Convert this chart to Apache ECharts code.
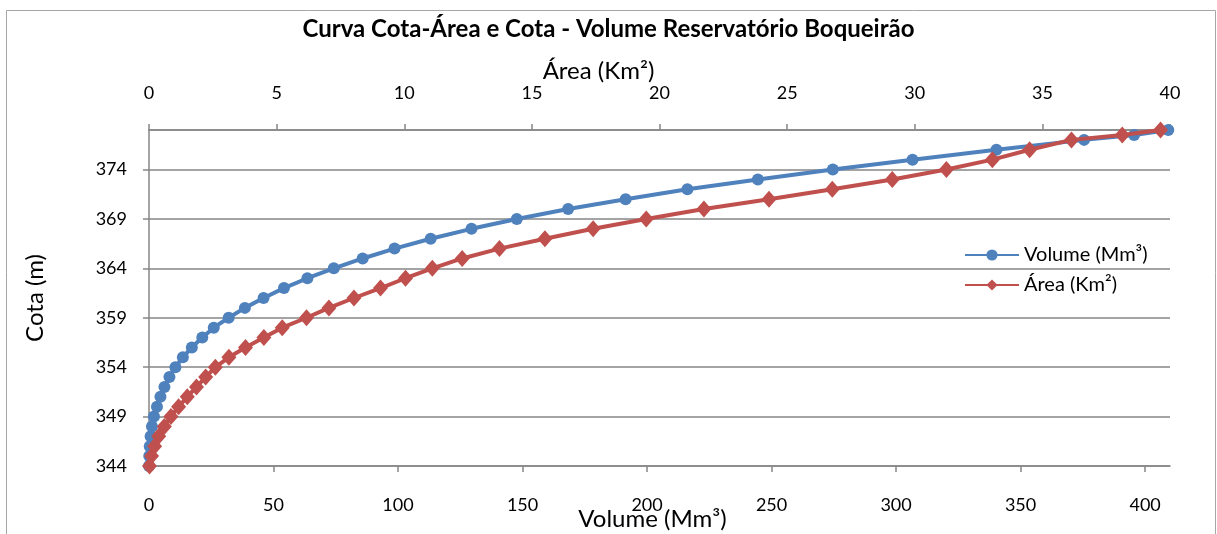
<!DOCTYPE html>
<html>
<head>
<meta charset="utf-8">
<script src="https://cdn.jsdelivr.net/npm/echarts@6/dist/echarts.min.js"></script>
<style>
html,body{margin:0;padding:0;background:#fff;}
#c{width:1217px;height:534px;}
</style>
</head>
<body>
<div id="c"></div>
<script>
// Cota (m) levels
const cota = [344,345,346,347,348,349,350,351,352,353,354,355,356,357,358,359,360,361,362,363,364,365,366,367,368,369,370,371,372,373,374,375,376,377,377.5,378];
// Volume (Mm³) at each level
const volume = [0,0.1,0.3,0.65,1.2,2.0,3.2,4.6,6.2,8.2,10.6,13.6,17.2,21.4,26.0,32.0,38.5,46.0,54.2,63.6,74.2,85.8,98.6,113.1,129.5,147.7,168.3,191.4,216.2,244.5,274.6,306.6,340.3,375.5,395.6,409.3];
// Área (Km²) at each level
const area = [0.02,0.1,0.22,0.38,0.6,0.86,1.16,1.5,1.86,2.22,2.6,3.13,3.78,4.5,5.22,6.17,7.05,8.03,9.07,10.05,11.1,12.27,13.73,15.51,17.4,19.48,21.74,24.29,26.77,29.12,31.24,33.04,34.5,36.14,38.13,39.63];

const FONT = 'Lato';
const GRAY = '#868686';
const chart = echarts.init(document.getElementById('c'), null, {renderer:'canvas'});
chart.setOption({
  animation:false,
  backgroundColor:'#ffffff',
  textStyle:{fontFamily:FONT},
  title:{
    text:'Curva Cota-Área e Cota - Volume Reservatório Boqueirão',
    left:'center', top:12,
    textStyle:{fontFamily:FONT, fontWeight:'bold', fontSize:24, color:'#000'}
  },
  graphic:[{
    type:'rect', left:4, top:8,
    shape:{width:1209, height:540},
    style:{fill:'none', stroke:'#a6a6a6', lineWidth:1}, silent:true, z:-1
  }],
  legend:{
    orient:'vertical', left:959, top:240, itemWidth:54, itemHeight:14, itemGap:10,
    textStyle:{fontFamily:FONT, fontSize:20, color:'#000'},
    data:['Volume (Mm³)','Área (Km²)']
  },
  grid:{left:149, right:47, top:130, bottom:68, containLabel:false, outerBoundsMode:'none'},
  xAxis:[{
    type:'value', position:'bottom', min:0, max:410, interval:50,
    name:'Volume (Mm³)', nameLocation:'middle', nameGap:41, nameMoveOverlap:false,
    nameTextStyle:{fontFamily:FONT, fontSize:24, color:'#000', padding:[0,14,0,0]},
    axisLine:{show:true, lineStyle:{color:GRAY, width:1.5}},
    axisTick:{show:true, inside:false, length:6, lineStyle:{color:GRAY, width:1.5}},
    axisLabel:{margin:30, fontFamily:FONT, fontSize:18, color:'#000', showMaxLabel:false},
    splitLine:{show:false}
  },{
    type:'value', position:'top', min:0, max:40, interval:5,
    name:'Área (Km²)', nameLocation:'middle', nameGap:47, nameMoveOverlap:false,
    nameTextStyle:{fontFamily:FONT, fontSize:24, color:'#000', padding:[0,122,0,0]},
    axisLine:{show:true, lineStyle:{color:GRAY, width:1.5}},
    axisTick:{show:true, inside:false, length:6, lineStyle:{color:GRAY, width:1.5}},
    axisLabel:{margin:28, fontFamily:FONT, fontSize:18, color:'#000'},
    splitLine:{show:false}
  }],
  yAxis:{
    type:'value', min:344, max:378, interval:5,
    name:'Cota (m)', nameLocation:'middle', nameGap:102, nameRotate:90, nameMoveOverlap:false,
    nameTextStyle:{fontFamily:FONT, fontSize:24, color:'#000'},
    axisLine:{show:true, lineStyle:{color:GRAY, width:1.5}},
    axisTick:{show:true, inside:false, length:6, lineStyle:{color:GRAY, width:1.5}},
    axisLabel:{margin:22, fontFamily:FONT, fontSize:18, color:'#000', showMaxLabel:false},
    splitLine:{show:true, lineStyle:{color:GRAY, width:1.5}}
  },
  series:[{
    name:'Volume (Mm³)', type:'line', xAxisIndex:0, yAxisIndex:0,
    data: cota.map((c,i)=>[volume[i], c]),
    symbol:'circle', symbolSize:12, smooth:false,
    lineStyle:{color:'#4F81BD', width:4},
    itemStyle:{color:'#4F81BD'}, z:2
  },{
    name:'Área (Km²)', type:'line', xAxisIndex:1, yAxisIndex:0,
    data: cota.map((c,i)=>[area[i], c]),
    symbol:'diamond', symbolSize:[15,17], smooth:false,
    lineStyle:{color:'#C0504D', width:4},
    itemStyle:{color:'#C0504D'}, z:3
  }]
});
</script>
</body>
</html>
